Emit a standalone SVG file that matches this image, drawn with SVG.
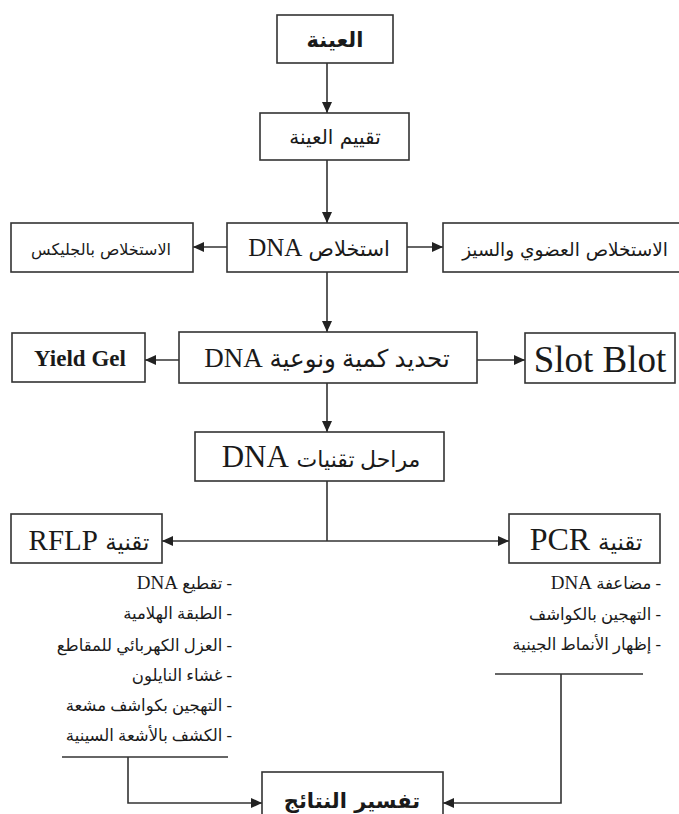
<svg xmlns="http://www.w3.org/2000/svg" width="679" height="814" viewBox="0 0 679 814">
<style>
.box{fill:#fff;stroke:#333;stroke-width:1.6}
.ar{font-family:"DejaVu Sans",sans-serif;fill:#1a1a1a}
.mx{font-family:"Liberation Serif","DejaVu Sans",serif;fill:#1a1a1a}
.c{text-anchor:middle}
.li{font-family:"Liberation Serif","DejaVu Sans",serif;fill:#1a1a1a;font-size:16.5px;text-anchor:start}
.dn{font-size:19px}
.ln{fill:none;stroke:#333;stroke-width:1.6}
</style>
<defs>
<marker id="ah" markerUnits="userSpaceOnUse" markerWidth="12" markerHeight="10" refX="11" refY="5" orient="auto">
<path d="M0,0 L11,5 L0,10 Z" fill="#222"/>
</marker>
</defs>
<rect width="679" height="814" fill="#fff"/>
<g id="connectors">
<path class="ln" d="M327,63 V113" marker-end="url(#ah)"/>
<path class="ln" d="M327,160 V223" marker-end="url(#ah)"/>
<path class="ln" d="M227,247 H193" marker-end="url(#ah)"/>
<path class="ln" d="M407,247 H443" marker-end="url(#ah)"/>
<path class="ln" d="M327,272 V332" marker-end="url(#ah)"/>
<path class="ln" d="M179,360 H145" marker-end="url(#ah)"/>
<path class="ln" d="M477,360 H525" marker-end="url(#ah)"/>
<path class="ln" d="M327,383 V432" marker-end="url(#ah)"/>
<path class="ln" d="M327,481 V541"/>
<path class="ln" d="M327,541 H162" marker-end="url(#ah)"/>
<path class="ln" d="M327,541 H509" marker-end="url(#ah)"/>
<path class="ln" d="M62,757 H228"/>
<path class="ln" d="M128,757 V803 H262" marker-end="url(#ah)"/>
<path class="ln" d="M495,674 H643"/>
<path class="ln" d="M561,674 V803 H443" marker-end="url(#ah)"/>
</g>
<g id="n1"><rect class="box" x="277" y="15" width="116" height="48"/><text class="ar c" x="335" y="47" font-size="21" font-weight="bold" direction="rtl">العينة</text></g>
<g id="n2"><rect class="box" x="260" y="113" width="149" height="47"/><text class="ar c" x="335" y="144" font-size="20" direction="rtl">تقييم العينة</text></g>
<g id="n3"><rect class="box" x="227" y="223" width="180" height="49"/><text class="mx c" x="319" y="256" font-size="25" direction="rtl"><tspan font-size="21">استخلاص</tspan> DNA</text></g>
<g id="n3l"><rect class="box" x="11" y="223" width="182" height="49"/><text class="ar c" x="101" y="255" font-size="16" direction="rtl">الاستخلاص بالجليكس</text></g>
<g id="n3r"><rect class="box" x="443" y="223" width="260" height="49"/><text class="ar c" x="565" y="256" font-size="18.5" direction="rtl">الاستخلاص العضوي والسيز</text></g>
<g id="n4"><rect class="box" x="179" y="332" width="298" height="51"/><text class="mx c" x="327" y="367" font-size="27" direction="rtl"><tspan font-size="24.5">تحديد كمية ونوعية</tspan> DNA</text></g>
<g id="n4l"><rect class="box" x="12" y="333" width="133" height="49"/><text class="mx c" x="80" y="366" font-size="23" font-weight="bold">Yield Gel</text></g>
<g id="n4r"><rect class="box" x="525" y="333" width="150" height="50"/><text class="mx c" x="600" y="372" font-size="37">Slot Blot</text></g>
<g id="n5"><rect class="box" x="195" y="432" width="249" height="49"/><text class="mx c" x="321" y="467" font-size="31" direction="rtl"><tspan font-size="22">مراحل تقنيات</tspan> DNA</text></g>
<g id="n6"><rect class="box" x="11" y="514" width="151" height="49"/><text class="mx c" x="89" y="550" font-size="29" direction="rtl"><tspan font-size="23">تقنية</tspan> RFLP</text></g>
<g id="n7"><rect class="box" x="509" y="514" width="151" height="49"/><text class="mx c" x="586" y="550" font-size="32" direction="rtl"><tspan font-size="23">تقنية</tspan> PCR</text></g>
<g id="l6">
<text class="li" x="232" y="589" direction="rtl">- تقطيع <tspan class="dn">DNA</tspan></text>
<text class="li" x="232" y="619" direction="rtl">- الطبقة الهلامية</text>
<text class="li" x="232" y="651" direction="rtl">- العزل الكهربائي للمقاطع</text>
<text class="li" x="232" y="681" direction="rtl">- غشاء النايلون</text>
<text class="li" x="232" y="711" direction="rtl">- التهجين بكواشف مشعة</text>
<text class="li" x="232" y="741" direction="rtl">- الكشف بالأشعة السينية</text>
</g>
<g id="l7">
<text class="li" x="661" y="589" direction="rtl">- مضاعفة <tspan class="dn">DNA</tspan></text>
<text class="li" x="661" y="620" direction="rtl">- التهجين بالكواشف</text>
<text class="li" x="661" y="650" direction="rtl">- إظهار الأنماط الجينية</text>
</g>
<g id="n8"><rect class="box" x="262" y="772" width="181" height="60"/><text class="ar c" x="352" y="808" font-size="21" font-weight="bold" direction="rtl">تفسير النتائج</text></g>
</svg>
